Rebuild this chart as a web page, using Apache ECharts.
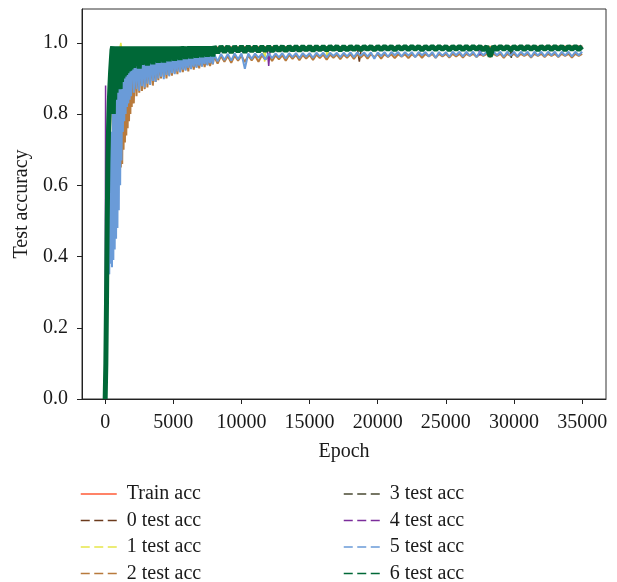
<!DOCTYPE html>
<html>
<head>
<meta charset="utf-8">
<script src="https://cdn.jsdelivr.net/npm/echarts@6/dist/echarts.min.js"></script>
<style>
  html, body { margin: 0; padding: 0; background: #fff; }
  #chart { width: 617px; height: 582px; }
</style>
</head>
<body>
<div id="chart"></div>
<script>
// epoch grid: every 50 epochs below 2000, every 100 below 8000, then every 250 up to 35000
const epochs = []
for (let e = 0; e < 2000; e += 50) epochs.push(e)
for (let e = 2000; e < 8000; e += 100) epochs.push(e)
for (let e = 8000; e <= 35000; e += 250) epochs.push(e)

const xTicks = [0, 5000, 10000, 15000, 20000, 25000, 30000, 35000]
const yTicks = [0, 0.2, 0.4, 0.6, 0.8, 1.0]

// dense series (values on the epoch grid)
const test2 = [
  // 0 - 1950
  0.0, 0.05, 0.15, 0.3, 0.45, 0.35, 0.55, 0.4, 0.65, 0.45,
  0.7, 0.5, 0.75, 0.55, 0.8, 0.58, 0.82, 0.6, 0.85, 0.62,
  0.87, 0.63, 0.88, 0.65, 0.9, 0.66, 0.91, 0.7, 0.92, 0.72,
  0.93, 0.74, 0.94, 0.76, 0.95, 0.78, 0.95, 0.8, 0.96, 0.82,
  // 2000 - 7900
  0.955, 0.83, 0.96, 0.85, 0.955, 0.86, 0.96, 0.865, 0.955, 0.87,
  0.96, 0.875, 0.955, 0.885, 0.96, 0.88, 0.955, 0.89, 0.96, 0.895,
  0.955, 0.9, 0.96, 0.905, 0.955, 0.9, 0.96, 0.91, 0.955, 0.908,
  0.96, 0.915, 0.955, 0.912, 0.96, 0.92, 0.955, 0.918, 0.96, 0.925,
  0.955, 0.92, 0.96, 0.928, 0.955, 0.925, 0.96, 0.932, 0.955, 0.928,
  0.96, 0.935, 0.955, 0.932, 0.96, 0.938, 0.955, 0.935, 0.96, 0.94,
  // 8000 - 35000
  0.962, 0.942, 0.963, 0.947, 0.963, 0.944, 0.964, 0.95, 0.964, 0.946,
  0.964, 0.951, 0.964, 0.947, 0.965, 0.953, 0.965, 0.949, 0.965, 0.954,
  0.965, 0.95, 0.966, 0.955, 0.966, 0.951, 0.966, 0.956, 0.966, 0.952,
  0.967, 0.957, 0.967, 0.953, 0.967, 0.958, 0.967, 0.954, 0.967, 0.958,
  0.968, 0.955, 0.968, 0.959, 0.968, 0.956, 0.968, 0.96, 0.968, 0.956,
  0.968, 0.96, 0.968, 0.957, 0.968, 0.961, 0.968, 0.957, 0.968, 0.961,
  0.969, 0.958, 0.969, 0.962, 0.969, 0.958, 0.969, 0.962, 0.969, 0.959,
  0.969, 0.962, 0.969, 0.959, 0.969, 0.963, 0.969, 0.96, 0.969, 0.963,
  0.969, 0.96, 0.969, 0.963, 0.969, 0.958, 0.969, 0.963, 0.969, 0.96,
  0.969, 0.963, 0.969, 0.959, 0.969, 0.963, 0.969, 0.96, 0.969, 0.963,
  0.969, 0.96, 0.969, 0.963, 0.969, 0.959, 0.969, 0.963, 0.969
]
const test5 = [
  // 0 - 1950
  0.0, 0.1, 0.25, 0.45, 0.3, 0.6, 0.35, 0.7, 0.38, 0.75,
  0.37, 0.8, 0.39, 0.82, 0.42, 0.85, 0.45, 0.86, 0.48, 0.88,
  0.53, 0.9, 0.6, 0.92, 0.67, 0.93, 0.75, 0.94, 0.78, 0.95,
  0.8, 0.96, 0.82, 0.96, 0.83, 0.97, 0.84, 0.97, 0.85, 0.975,
  // 2000 - 7900
  0.965, 0.86, 0.97, 0.87, 0.965, 0.865, 0.97, 0.878, 0.965, 0.875,
  0.97, 0.885, 0.965, 0.882, 0.97, 0.893, 0.965, 0.89, 0.97, 0.9,
  0.965, 0.905, 0.97, 0.898, 0.965, 0.91, 0.97, 0.906, 0.965, 0.915,
  0.97, 0.912, 0.965, 0.92, 0.97, 0.917, 0.965, 0.925, 0.97, 0.922,
  0.965, 0.93, 0.97, 0.926, 0.965, 0.933, 0.97, 0.93, 0.965, 0.936,
  0.97, 0.933, 0.965, 0.94, 0.97, 0.937, 0.965, 0.943, 0.97, 0.94,
  // 8000 - 35000
  0.968, 0.948, 0.969, 0.952, 0.969, 0.95, 0.97, 0.954, 0.97, 0.927,
  0.97, 0.955, 0.97, 0.958, 0.97, 0.953, 0.97, 0.957, 0.97, 0.959,
  0.971, 0.956, 0.971, 0.96, 0.971, 0.957, 0.971, 0.961, 0.971, 0.958,
  0.972, 0.962, 0.972, 0.959, 0.972, 0.963, 0.972, 0.96, 0.972, 0.962,
  0.973, 0.96, 0.973, 0.964, 0.973, 0.961, 0.973, 0.955, 0.973, 0.963,
  0.974, 0.961, 0.974, 0.965, 0.974, 0.962, 0.974, 0.964, 0.974, 0.96,
  0.974, 0.965, 0.974, 0.962, 0.974, 0.958, 0.974, 0.964, 0.974, 0.961,
  0.975, 0.965, 0.975, 0.962, 0.975, 0.964, 0.975, 0.96, 0.975, 0.965,
  0.975, 0.962, 0.975, 0.965, 0.975, 0.961, 0.975, 0.964, 0.975, 0.962,
  0.975, 0.965, 0.975, 0.96, 0.975, 0.964, 0.975, 0.962, 0.975, 0.965,
  0.975, 0.961, 0.975, 0.964, 0.975, 0.962, 0.975, 0.965, 0.975
]
const test6 = [
  // 0 - 1950
  0.0, 0.1, 0.28, 0.5, 0.66, 0.76, 0.83, 0.88, 0.92, 0.95,
  0.98, 0.99, 0.8, 0.99, 0.84, 0.99, 0.86, 0.99, 0.87, 0.99,
  0.88, 0.99, 0.87, 0.99, 0.89, 0.99, 0.9, 0.99, 0.905, 0.99,
  0.91, 0.99, 0.915, 0.99, 0.92, 0.99, 0.922, 0.99, 0.925, 0.99,
  // 2000 - 7900
  0.99, 0.93, 0.99, 0.935, 0.99, 0.928, 0.99, 0.938, 0.99, 0.94,
  0.99, 0.936, 0.99, 0.943, 0.99, 0.94, 0.99, 0.946, 0.99, 0.944,
  0.99, 0.948, 0.99, 0.945, 0.99, 0.95, 0.99, 0.948, 0.99, 0.953,
  0.99, 0.95, 0.99, 0.955, 0.99, 0.952, 0.99, 0.957, 0.99, 0.955,
  0.99, 0.959, 0.99, 0.956, 0.99, 0.96, 0.99, 0.958, 0.99, 0.962,
  0.99, 0.96, 0.99, 0.963, 0.99, 0.961, 0.99, 0.964, 0.99, 0.962,
  // 8000 - 35000
  0.99, 0.972, 0.99, 0.974, 0.99, 0.973, 0.99, 0.975, 0.99, 0.974,
  0.99, 0.976, 0.99, 0.975, 0.99, 0.977, 0.99, 0.976, 0.99, 0.978,
  0.99, 0.977, 0.99, 0.979, 0.99, 0.978, 0.99, 0.98, 0.99, 0.978,
  0.99, 0.98, 0.99, 0.979, 0.99, 0.981, 0.99, 0.979, 0.99, 0.98,
  0.99, 0.981, 0.99, 0.98, 0.99, 0.982, 0.99, 0.98, 0.99, 0.981,
  0.99, 0.982, 0.99, 0.98, 0.99, 0.982, 0.99, 0.981, 0.99, 0.982,
  0.99, 0.98, 0.99, 0.982, 0.99, 0.981, 0.99, 0.982, 0.99, 0.98,
  0.99, 0.982, 0.99, 0.981, 0.99, 0.981, 0.99, 0.982, 0.99, 0.98,
  0.99, 0.962, 0.99, 0.981, 0.99, 0.982, 0.99, 0.98, 0.99, 0.982,
  0.99, 0.981, 0.99, 0.982, 0.99, 0.98, 0.99, 0.982, 0.99, 0.981,
  0.99, 0.982, 0.99, 0.98, 0.99, 0.982, 0.99, 0.981, 0.99
]

// sparse series: [epoch, accuracy]
const trainAcc = [[0, 0], [100, 0.3], [200, 0.55], [300, 0.75], [400, 0.88], [500, 0.94],
  [700, 0.97], [1000, 0.98], [3000, 0.985], [10000, 0.988], [35000, 0.99]]
const test0 = [[0, 0], [100, 0.2], [200, 0.5], [300, 0.7], [400, 0.82], [600, 0.9], [900, 0.94],
  [1500, 0.96], [3000, 0.975], [6000, 0.98], [18500, 0.985], [18650, 0.947], [18800, 0.985], [35000, 0.99]]
const test1 = [[0, 0], [150, 0.25], [300, 0.6], [450, 0.85], [650, 0.95], [800, 0.93], [1150, 1.0],
  [1300, 0.96], [3000, 0.975], [11600, 0.985], [11700, 0.947], [11800, 0.985], [16200, 0.985],
  [16300, 0.953], [16400, 0.985], [35000, 0.99]]
const test3 = [[0, 0], [100, 0.25], [250, 0.6], [400, 0.8], [600, 0.9], [1000, 0.94], [2000, 0.96],
  [5900, 0.975], [6000, 0.94], [6100, 0.975], [29700, 0.985], [29800, 0.958], [29900, 0.985], [35000, 0.99]]
const test4 = [[0, 0], [30, 0.88], [80, 0.3], [130, 0.72], [180, 0.5], [230, 0.8], [300, 0.65],
  [400, 0.88], [500, 0.93], [700, 0.96], [1500, 0.97], [11900, 0.98], [12000, 0.935], [12100, 0.98],
  [27400, 0.985], [27500, 0.965], [27600, 0.985], [35000, 0.99]]

const names = ['Train acc', '0 test acc', '1 test acc', '2 test acc', '3 test acc', '4 test acc', '5 test acc', '6 test acc']
const colors = ['#ff5a36', '#6b3a1c', '#e6e64a', '#b87a3c', '#4a4a32', '#7b2d9b', '#6a9bd8', '#006837']
const widths = [1.5, 1.5, 1.5, 2, 1.5, 1.5, 2, 5]

const withEpochs = vals => vals.map((v, i) => [epochs[i], v])
const seriesData = [trainAcc, test0, test1, withEpochs(test2), test3, test4, withEpochs(test5), withEpochs(test6)]

const font = 'Liberation Serif'
const myChart = echarts.init(document.getElementById('chart'))

const legendItem = (name, i) => ({
  name: name,
  lineStyle: { type: i === 0 ? 'solid' : [9, 4.5], width: 1.5 }
})
const legendBase = {
  top: 484,
  height: 110,
  padding: 0,
  orient: 'vertical',
  itemWidth: 36,
  itemHeight: 14,
  itemGap: 6.5,
  itemStyle: { opacity: 0 },
  formatter: n => ' ' + n,
  textStyle: { fontFamily: font, fontSize: 20, color: '#1a1a1a', lineHeight: 20 }
}

myChart.setOption({
  animation: false,
  grid: {
    left: 82,
    top: 9,
    width: 524,
    height: 390,
    show: true,
    borderColor: '#333',
    borderWidth: 1
  },
  legend: [
    Object.assign({}, legendBase, { left: 80, data: names.slice(0, 4).map((n, i) => legendItem(n, i)) }),
    Object.assign({}, legendBase, { left: 343, data: names.slice(4).map((n, i) => legendItem(n, i + 4)) })
  ],
  xAxis: {
    type: 'value',
    min: -1700,
    max: 36750,
    name: 'Epoch',
    nameLocation: 'middle',
    nameGap: 43,
    nameTextStyle: { fontFamily: font, fontSize: 20, color: '#1a1a1a' },
    axisLine: { onZero: false, lineStyle: { color: '#222', width: 1 } },
    axisTick: { length: 5, lineStyle: { color: '#222' }, customValues: xTicks },
    axisLabel: {
      fontFamily: font, fontSize: 20, color: '#1a1a1a', margin: 14,
      customValues: xTicks,
      formatter: v => String(v)
    },
    splitLine: { show: false }
  },
  yAxis: {
    type: 'value',
    min: 0,
    max: 1.095,
    name: 'Test accuracy',
    nameLocation: 'middle',
    nameGap: 50,
    nameTextStyle: { fontFamily: font, fontSize: 20, color: '#1a1a1a' },
    axisLine: { show: true, onZero: false, lineStyle: { color: '#222', width: 1 } },
    axisTick: { show: true, length: 5, lineStyle: { color: '#222' }, customValues: yTicks },
    axisLabel: {
      fontFamily: font, fontSize: 20, color: '#1a1a1a', margin: 14,
      customValues: yTicks,
      formatter: v => v.toFixed(1)
    },
    splitLine: { show: false }
  },
  series: names.map((name, i) => ({
    name: name,
    type: 'line',
    data: seriesData[i],
    symbol: 'none',
    showSymbol: false,
    color: colors[i],
    lineStyle: { color: colors[i], width: widths[i] }
  }))
})
</script>
</body>
</html>
